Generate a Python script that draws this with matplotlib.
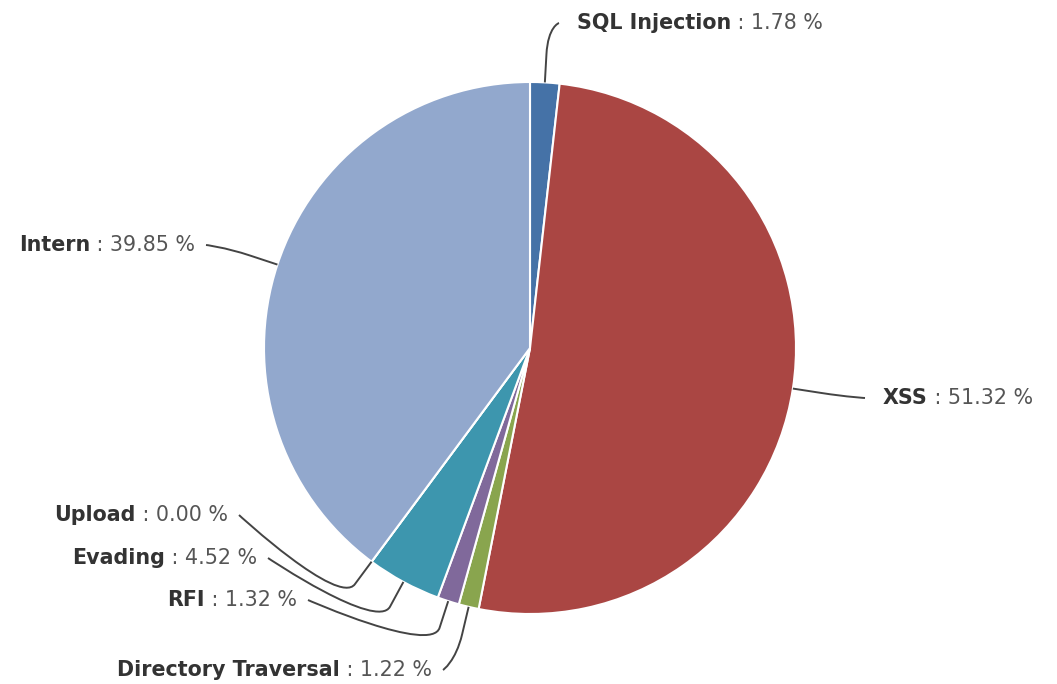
import numpy as np
import matplotlib.pyplot as plt
from matplotlib.path import Path
from matplotlib.patches import PathPatch

# Data
labels = ["SQL Injection", "XSS", "Directory Traversal", "RFI", "Evading", "Upload", "Intern"]
shares = [1.78, 51.32, 1.22, 1.32, 4.52, 0.00, 39.85]
colors = ["#4572A7", "#AA4643", "#89A54E", "#80699B", "#3D96AE", "#DB843D", "#92A8CD"]

# Label layout (pixel coords, origin top-left): text edge x, text centre y, side
label_x = [577, 883, 432, 297, 257, 228, 195]
label_y = [23, 398, 670, 600, 558, 515, 245]
label_side = ["right", "right", "left", "left", "left", "left", "left"]

W, H = 1057, 684
fig = plt.figure(figsize=(W / 100, H / 100), dpi=100)
ax = fig.add_axes([0, 0, 1, 1])

cx, cy, r = 530, H - 348, 266
wedges, _ = ax.pie(shares, colors=colors, startangle=90, counterclock=False,
                   center=(cx, cy), radius=r,
                   wedgeprops=dict(edgecolor="white", linewidth=1.5))
ax.set_xlim(0, W)
ax.set_ylim(0, H)
ax.set_aspect("equal")
ax.axis("off")

renderer = fig.canvas.get_renderer()
fs = 14.9

for w, name, val, lx, ly, side in zip(wedges, labels, shares, label_x, label_y, label_side):
    y = H - ly
    value_txt = f" : {val:.2f} %"
    if side == "right":
        t1 = ax.text(lx, y, name, ha="left", va="center", fontsize=fs,
                     fontweight="bold", color="#333333")
        bb = t1.get_window_extent(renderer)
        ax.text(bb.x1, y, value_txt, ha="left", va="center", fontsize=fs,
                color="#555555")
        sx = lx - 18
    else:
        t2 = ax.text(lx, y, value_txt, ha="right", va="center", fontsize=fs,
                     color="#555555")
        bb = t2.get_window_extent(renderer)
        ax.text(bb.x0, y, name, ha="right", va="center", fontsize=fs,
                fontweight="bold", color="#333333")
        sx = lx + 11

    # connector: soft curve from label to a bend point, then straight to pie edge
    mid = np.deg2rad((w.theta1 + w.theta2) / 2)
    ex, ey = cx + r * np.cos(mid), cy + r * np.sin(mid)
    bx, by = cx + (r + 28) * np.cos(mid), cy + (r + 28) * np.sin(mid)
    verts = [(sx, y), (sx, y), (2 * bx - ex, 2 * by - ey), (bx, by), (ex, ey)]
    codes = [Path.MOVETO, Path.CURVE4, Path.CURVE4, Path.CURVE4, Path.LINETO]
    ax.add_patch(PathPatch(Path(verts, codes), facecolor="none",
                           edgecolor="#444444", linewidth=1.4))

fig.savefig("out.png", dpi=100)
